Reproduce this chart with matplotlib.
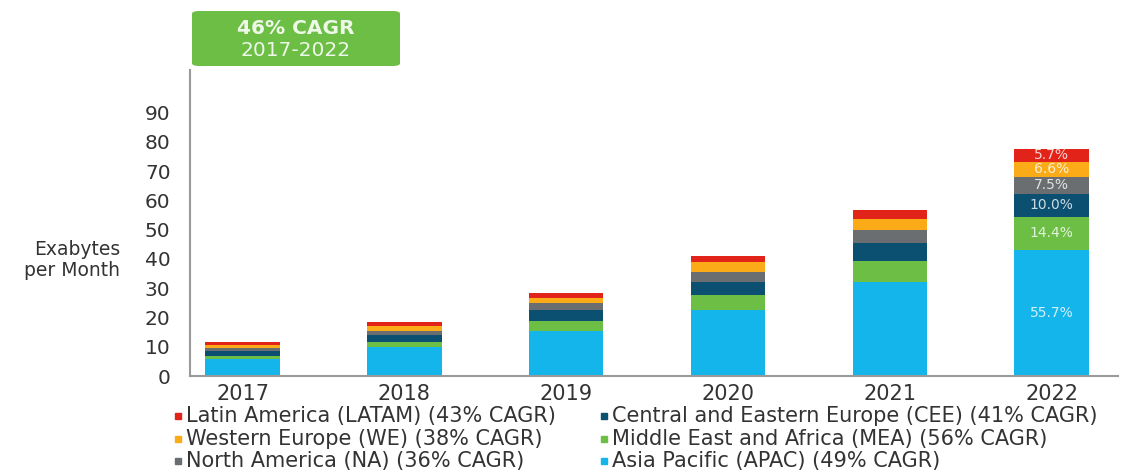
import matplotlib
matplotlib.use("Agg")
import matplotlib.pyplot as plt
from matplotlib.patches import FancyBboxPatch
from matplotlib.lines import Line2D

plt.rcParams['font.family'] = ['DejaVu Sans']

years = ["2017", "2018", "2019", "2020", "2021", "2022"]

# Exabytes per month by region, stacked bottom to top
apac = [5.9, 9.8, 15.5, 22.7, 32.0, 43.2]
mea = [1.0, 1.7, 3.4, 4.9, 7.4, 11.2]
cee = [1.6, 2.6, 3.7, 4.6, 5.9, 7.76]
na = [1.2, 1.4, 2.3, 3.4, 4.4, 5.82]
we = [1.0, 1.7, 1.8, 3.2, 3.9, 5.12]
latam = [0.8, 1.2, 1.6, 2.3, 3.1, 4.42]

series = [
    ("Asia Pacific (APAC) (49% CAGR)", apac, "#13B5EA"),
    ("Middle East and Africa (MEA) (56% CAGR)", mea, "#6CBE45"),
    ("Central and Eastern Europe (CEE) (41% CAGR)", cee, "#0B4F71"),
    ("North America (NA) (36% CAGR)", na, "#6B6E70"),
    ("Western Europe (WE) (38% CAGR)", we, "#FBAB18"),
    ("Latin America (LATAM) (43% CAGR)", latam, "#E2231A"),
]

yticks = [0, 10, 20, 30, 40, 50, 60, 70, 80, 90]
cagr_title = "46% CAGR"
cagr_period = "2017-2022"

W, H = 1133, 472
fig = plt.figure(figsize=(W / 100, H / 100), dpi=100)
ax = fig.add_axes([190 / W, 1 - 376 / H, (1118 - 190) / W, (376 - 70) / H])

x = list(range(len(years)))
bottom = [0.0] * len(years)
totals = [sum(v) for v in zip(*[s[1] for s in series])]
for name, vals, color in series:
    ax.bar(x, vals, width=0.46, bottom=bottom, color=color, label=name,
           linewidth=0)
    # share labels on the final year
    i = len(years) - 1
    share = vals[i] / totals[i] * 100
    ax.text(x[i], bottom[i] + vals[i] / 2, f"{share:.1f}%", ha="center",
            va="center", fontsize=10, color="white", alpha=0.8)
    bottom = [b + v for b, v in zip(bottom, vals)]

ax.set_xlim(-0.325, 5.41)
ax.set_ylim(0, 104.5)
ax.set_yticks(yticks)
ax.set_xticks(x)
ax.set_xticklabels(years)
ax.tick_params(axis="both", length=0, colors="#333333")
ax.tick_params(axis="y", pad=14, labelsize=14.5)
ax.tick_params(axis="x", pad=6, labelsize=15)
for s in ("top", "right"):
    ax.spines[s].set_visible(False)
for s in ("left", "bottom"):
    ax.spines[s].set_color("#9a9a9a")
    ax.spines[s].set_linewidth(1.5)

fig.text(120 / W, 1 - 260 / H, "Exabytes\nper Month", ha="right", va="center",
         fontsize=13.5, color="#333333", multialignment="right",
         linespacing=1.1)

# CAGR callout box
box = FancyBboxPatch((192 / W, 1 - 66 / H), (400 - 192) / W, (66 - 11) / H,
                     boxstyle="round,pad=0,rounding_size=0.006",
                     transform=fig.transFigure, facecolor="#6CBE45",
                     edgecolor="none")
fig.add_artist(box)
fig.text(296 / W, 1 - 29 / H, cagr_title, ha="center", va="center",
         fontsize=14.5, fontweight="bold", color="#EEF8E8")
fig.text(296 / W, 1 - 50 / H, cagr_period, ha="center", va="center",
         fontsize=14.5, color="#EEF8E8")

# legend, two columns
legend_order = [5, 4, 3, 2, 1, 0]
cols_x = [178, 604]
rows_y = [416, 439, 461]
for k, idx in enumerate(legend_order):
    name, _, color = series[idx]
    cx = cols_x[k // 3]
    cy = rows_y[k % 3]
    fig.add_artist(Line2D([cx / W], [1 - cy / H], marker="s", markersize=4,
                          color=color, linestyle="none",
                          transform=fig.transFigure))
    fig.text((cx + 8) / W, 1 - cy / H, name, ha="left", va="center",
             fontsize=15, color="#333333")

fig.savefig("out.png", dpi=100)
